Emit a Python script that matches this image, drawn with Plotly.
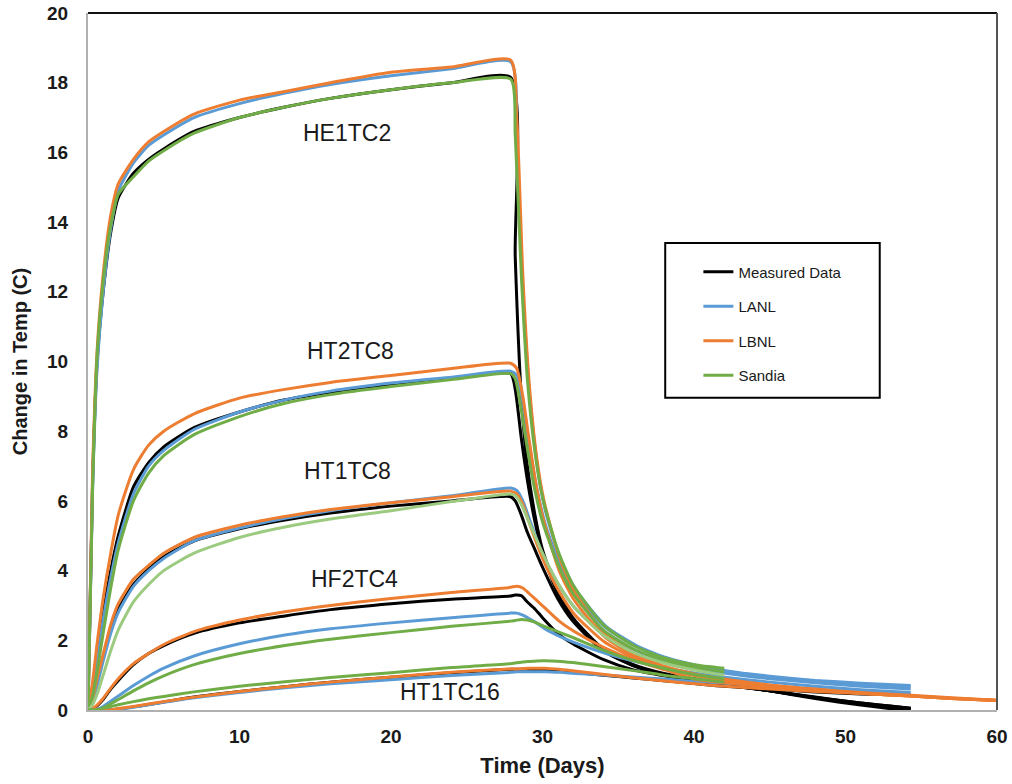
import plotly.graph_objects as go

# ---------------- data ----------------
SENSORS = ["HE1TC2", "HT2TC8", "HT1TC8", "HF2TC4", "HT1TC16"]
MODELS = ["Measured Data", "LANL", "LBNL", "Sandia"]

# shared heating-phase time grid (days)
T_HEAT = [0, 0.3, 0.6, 1.0, 1.5, 2.0, 3.0, 4.0, 5.0, 7.0, 10.0, 13.0, 16.0, 20.0, 24.0, 27.9]

# cooling-phase time grids per model (days)
T_COOL_MEAS = [28.2, 28.6, 29.0, 29.5, 30, 31, 32, 34, 36, 38, 40, 42, 45, 48, 51, 54.3]
T_COOL_LANL = [28.3, 28.7, 29.2, 29.7, 30.2, 31.2, 32.2, 34.2, 36.2, 38.2, 40.2, 42.2, 45, 48, 51, 54.3]
T_COOL_LBNL = [28.3, 28.7, 29.1, 29.6, 30.1, 31.1, 32.1, 34.1, 36.1, 38.1, 40.1, 42.1, 45, 48, 51, 54.3, 57, 60]
T_COOL_SANDIA = [28.2, 28.6, 29.0, 29.5, 30, 31, 32, 34, 36, 38, 40, 42]

# heating values (change in temp, C)
HEAT_MEAS = {
    "HE1TC2": [0, 6.5, 10.0, 12.0, 13.7, 14.7, 15.4, 15.8, 16.1, 16.6, 17.0, 17.3, 17.55, 17.8, 18.0, 18.15],
    "HT2TC8": [0, 0.6, 1.6, 2.8, 4.0, 5.0, 6.4, 7.1, 7.55, 8.1, 8.55, 8.9, 9.12, 9.35, 9.52, 9.65],
    "HT1TC8": [0, 0.3, 0.8, 1.5, 2.3, 2.9, 3.6, 4.05, 4.4, 4.85, 5.2, 5.45, 5.65, 5.85, 6.0, 6.12],
    "HF2TC4": [0, 0.02, 0.12, 0.3, 0.6, 0.85, 1.3, 1.62, 1.85, 2.2, 2.5, 2.7, 2.88, 3.05, 3.18, 3.27],
    "HT1TC16": [0, 0, 0, 0, 0.01, 0.03, 0.09, 0.16, 0.23, 0.37, 0.53, 0.67, 0.8, 0.94, 1.07, 1.17],
}
HEAT_LANL = {
    "HE1TC2": [0, 6.3, 9.8, 12.0, 13.8, 14.9, 15.7, 16.2, 16.5, 17.0, 17.4, 17.7, 17.95, 18.2, 18.4, 18.6],
    "HT2TC8": [0, 0.5, 1.4, 2.6, 3.8, 4.8, 6.2, 7.0, 7.45, 8.05, 8.55, 8.9, 9.15, 9.38, 9.55, 9.72],
    "HT1TC8": [0, 0.25, 0.7, 1.4, 2.2, 2.8, 3.55, 4.0, 4.35, 4.85, 5.22, 5.5, 5.72, 5.95, 6.15, 6.37],
    "HF2TC4": [0, 0, 0.02, 0.1, 0.25, 0.4, 0.7, 0.97, 1.2, 1.55, 1.9, 2.15, 2.33, 2.5, 2.65, 2.78],
    "HT1TC16": [0, 0, 0, 0, 0.01, 0.02, 0.08, 0.15, 0.22, 0.35, 0.5, 0.64, 0.75, 0.87, 0.99, 1.08],
}
HEAT_LBNL = {
    "HE1TC2": [0, 6.8, 10.3, 12.5, 14.2, 15.1, 15.8, 16.3, 16.6, 17.1, 17.5, 17.75, 18.0, 18.3, 18.45, 18.65],
    "HT2TC8": [0, 0.8, 1.9, 3.2, 4.5, 5.6, 6.9, 7.6, 8.0, 8.5, 8.95, 9.2, 9.4, 9.6, 9.8, 9.95],
    "HT1TC8": [0, 0.35, 0.9, 1.6, 2.45, 3.05, 3.75, 4.15, 4.5, 4.95, 5.3, 5.55, 5.75, 5.95, 6.12, 6.28],
    "HF2TC4": [0, 0.03, 0.14, 0.33, 0.63, 0.9, 1.33, 1.62, 1.88, 2.25, 2.58, 2.82, 3.0, 3.2, 3.37, 3.52],
    "HT1TC16": [0, 0, 0, 0, 0.01, 0.04, 0.1, 0.17, 0.24, 0.37, 0.53, 0.67, 0.8, 0.95, 1.08, 1.18],
}
HEAT_SANDIA = {
    "HE1TC2": [0, 6.3, 10.2, 12.3, 13.9, 14.8, 15.3, 15.75, 16.05, 16.55, 17.0, 17.3, 17.55, 17.8, 18.0, 18.1],
    "HT2TC8": [0, 0.4, 1.1, 2.2, 3.5, 4.6, 6.0, 6.8, 7.3, 7.9, 8.42, 8.8, 9.05, 9.28, 9.48, 9.65],
    "HT1TC8": [0, 0.15, 0.45, 1.0, 1.7, 2.3, 3.1, 3.6, 4.0, 4.5, 4.95, 5.25, 5.48, 5.72, 5.98, 6.2],
    "HF2TC4": [0, 0, 0.01, 0.06, 0.18, 0.3, 0.55, 0.78, 0.98, 1.3, 1.62, 1.85, 2.03, 2.22, 2.4, 2.55],
    "HT1TC16": [0, 0, 0, 0.05, 0.1, 0.15, 0.24, 0.32, 0.39, 0.52, 0.68, 0.81, 0.93, 1.07, 1.22, 1.33],
}

# cooling values
COOL_MEAS = {
    "HE1TC2": [13.0, 9.0, 7.0, 5.6, 4.6, 3.4, 2.65, 1.75, 1.3, 1.05, 0.9, 0.75, 0.55, 0.33, 0.14, -0.03],
    "HT2TC8": [9.2, 7.8, 6.6, 5.4, 4.5, 3.35, 2.6, 1.72, 1.28, 1.03, 0.88, 0.74, 0.55, 0.35, 0.18, 0.02],
    "HT1TC8": [6.0, 5.6, 5.1, 4.6, 4.1, 3.2, 2.55, 1.7, 1.27, 1.02, 0.87, 0.73, 0.55, 0.36, 0.2, 0.05],
    "HF2TC4": [3.3, 3.28, 3.1, 2.9, 2.65, 2.2, 1.9, 1.45, 1.15, 0.98, 0.85, 0.72, 0.55, 0.37, 0.2, 0.05],
    "HT1TC16": [1.17, 1.17, 1.17, 1.16, 1.15, 1.12, 1.08, 1.0, 0.92, 0.84, 0.76, 0.68, 0.6, 0.52, 0.46, 0.42],
}
COOL_LANL = {
    "HE1TC2": [16.0, 12.0, 8.8, 6.9, 5.7, 4.3, 3.45, 2.4, 1.85, 1.5, 1.28, 1.12, 0.97, 0.85, 0.77, 0.7],
    "HT2TC8": [9.6, 8.8, 7.4, 6.2, 5.3, 4.1, 3.3, 2.35, 1.82, 1.48, 1.26, 1.1, 0.95, 0.83, 0.74, 0.66],
    "HT1TC8": [6.3, 6.0, 5.4, 4.8, 4.3, 3.5, 2.9, 2.15, 1.7, 1.4, 1.2, 1.05, 0.9, 0.78, 0.68, 0.6],
    "HF2TC4": [2.78, 2.72, 2.6, 2.47, 2.32, 2.1, 1.92, 1.62, 1.38, 1.2, 1.05, 0.93, 0.8, 0.68, 0.58, 0.5],
    "HT1TC16": [1.1, 1.1, 1.1, 1.1, 1.1, 1.08, 1.05, 1.0, 0.94, 0.88, 0.82, 0.76, 0.68, 0.6, 0.52, 0.45],
}
COOL_LBNL = {
    "HE1TC2": [17.0, 12.5, 9.5, 7.3, 6.0, 4.4, 3.4, 2.2, 1.6, 1.25, 1.03, 0.88, 0.72, 0.6, 0.5, 0.42, 0.35, 0.28],
    "HT2TC8": [9.8, 9.0, 7.8, 6.4, 5.4, 4.0, 3.15, 2.1, 1.55, 1.22, 1.0, 0.86, 0.7, 0.58, 0.49, 0.41, 0.34, 0.27],
    "HT1TC8": [6.2, 5.9, 5.4, 4.8, 4.25, 3.4, 2.75, 1.95, 1.48, 1.18, 0.98, 0.84, 0.69, 0.57, 0.48, 0.4, 0.33, 0.27],
    "HF2TC4": [3.55, 3.5, 3.35, 3.15, 2.95, 2.55, 2.25, 1.78, 1.42, 1.15, 0.88, 0.78, 0.66, 0.56, 0.48, 0.4, 0.33, 0.27],
    "HT1TC16": [1.18, 1.19, 1.2, 1.2, 1.2, 1.17, 1.12, 1.02, 0.92, 0.83, 0.75, 0.68, 0.6, 0.53, 0.47, 0.4, 0.33, 0.27],
}
COOL_SANDIA = {
    "HE1TC2": [16.5, 12.5, 9.5, 7.4, 6.1, 4.6, 3.6, 2.45, 1.85, 1.5, 1.3, 1.2],
    "HT2TC8": [9.5, 8.6, 7.5, 6.3, 5.4, 4.2, 3.35, 2.3, 1.75, 1.42, 1.22, 1.1],
    "HT1TC8": [6.15, 5.9, 5.5, 5.0, 4.5, 3.65, 3.0, 2.15, 1.65, 1.35, 1.15, 1.0],
    "HF2TC4": [2.57, 2.6, 2.58, 2.52, 2.42, 2.25, 2.08, 1.72, 1.42, 1.2, 1.02, 0.9],
    "HT1TC16": [1.35, 1.37, 1.39, 1.4, 1.41, 1.4, 1.36, 1.25, 1.13, 1.0, 0.9, 0.8],
}

LABELS = ["HE1TC2", "HT2TC8", "HT1TC8", "HF2TC4", "HT1TC16"]
LABEL_X = [17.1, 17.3, 17.1, 17.6, 23.9]
LABEL_Y = [16.56, 10.3, 6.86, 3.76, 0.52]

X_TICKS = [0, 10, 20, 30, 40, 50, 60]
Y_TICKS = [0, 2, 4, 6, 8, 10, 12, 14, 16, 18, 20]

# ---------------- styling ----------------
COLORS = {"Measured Data": "#000000", "LANL": "#5B9BD5", "LBNL": "#ED7D31", "Sandia": "#70AD47"}
FONT = "Liberation Sans, Arial, sans-serif"

model_data = {
    "Measured Data": (HEAT_MEAS, T_COOL_MEAS, COOL_MEAS),
    "LANL": (HEAT_LANL, T_COOL_LANL, COOL_LANL),
    "LBNL": (HEAT_LBNL, T_COOL_LBNL, COOL_LBNL),
    "Sandia": (HEAT_SANDIA, T_COOL_SANDIA, COOL_SANDIA),
}

fig = go.Figure()
for model in MODELS:
    heat, tcool, cool = model_data[model]
    for i, s in enumerate(SENSORS):
        color = COLORS[model]
        if model == "Sandia" and s == "HT1TC8":
            color = "#9CCB80"
        fig.add_trace(go.Scatter(
            x=T_HEAT + tcool,
            y=heat[s] + cool[s],
            mode="lines",
            line=dict(color=color, width=3, shape="spline", smoothing=0.6),
            name=model,
            legendgroup=model,
            showlegend=(i == 0),
            hoverinfo="skip",
        ))

for lab, lx, ly in zip(LABELS, LABEL_X, LABEL_Y):
    fig.add_annotation(x=lx, y=ly, text=lab, showarrow=False,
                       font=dict(family=FONT, size=23, color="#1a1a1a"))

# plot-area frame: top black, right dark grey
fig.add_shape(type="line", xref="paper", yref="paper", x0=0, x1=1, y0=1, y1=1,
              line=dict(color="#111111", width=2))
fig.add_shape(type="line", xref="paper", yref="paper", x0=1, x1=1, y0=0, y1=1,
              line=dict(color="#555555", width=2))
# legend box
fig.add_shape(type="rect", xref="paper", yref="paper", x0=0.635, x1=0.871, y0=0.448, y1=0.670,
              line=dict(color="#000000", width=2), fillcolor="rgba(0,0,0,0)")

fig.update_layout(
    width=1012, height=784,
    margin=dict(l=88, r=15, t=13, b=74, autoexpand=False),
    plot_bgcolor="white", paper_bgcolor="white",
    font=dict(family=FONT, color="#1a1a1a"),
    showlegend=True,
    legend=dict(x=0.6715, y=0.652, xanchor="left", yanchor="top",
                bgcolor="rgba(0,0,0,0)", borderwidth=0,
                font=dict(family=FONT, size=15, color="#1a1a1a"),
                tracegroupgap=12, itemwidth=30),
    xaxis=dict(range=[0, 60], tickvals=X_TICKS, showgrid=False, zeroline=False,
               showline=True, linecolor="#B0B0B0", linewidth=2, ticks="",
               automargin=False, ticklabelstandoff=8,
               tickfont=dict(family=FONT, size=19, color="#1a1a1a", weight="bold"),
               title=dict(text="Time (Days)", standoff=12,
                          font=dict(family=FONT, size=22, color="#1a1a1a", weight="bold"))),
    yaxis=dict(range=[0, 20], tickvals=Y_TICKS, showgrid=False, zeroline=False,
               showline=True, linecolor="#B0B0B0", linewidth=2, ticks="",
               automargin=False, ticklabelstandoff=14,
               tickfont=dict(family=FONT, size=19, color="#1a1a1a", weight="bold"),
               title=dict(text="Change in Temp (C)", standoff=14,
                          font=dict(family=FONT, size=20, color="#1a1a1a", weight="bold"))),
)

fig.write_html("out.html", config={"displayModeBar": False},
               post_script="document.body.style.margin='0';")
